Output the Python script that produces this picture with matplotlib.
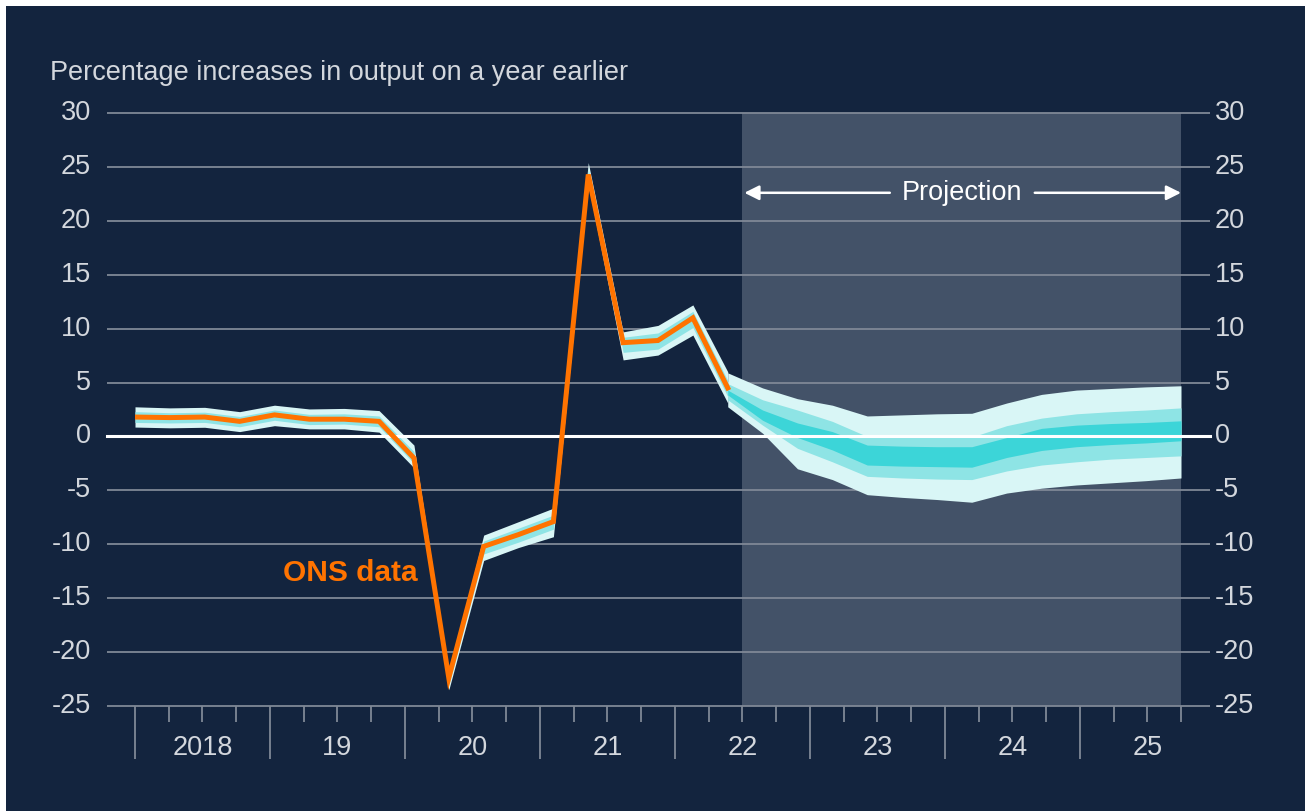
import numpy as np
import matplotlib
matplotlib.use("Agg")
import matplotlib.pyplot as plt
from matplotlib import font_manager
from matplotlib.patches import Rectangle

# ---------------- data ----------------
# 31 quarterly observations, positioned across the axis from 2018 to end-2025 Q3
n_points = 31
x_start, x_end = 2018.0, 2025.75

ons_values = [1.8, 1.75, 1.8, 1.4, 2.0, 1.6, 1.6, 1.4, -2.0, -22.4,
              -10.2, -9.1, -7.9, 24.3, 8.7, 8.9, 11.0, 4.5]
ons_outer_upper = [2.75, 2.65, 2.7, 2.3, 2.9, 2.55, 2.6, 2.4, -0.8, -22.0,
                   -9.15, -7.9, -6.65, 25.4, 9.7, 10.3, 12.2, 6.0]
ons_outer_lower = [0.87, 0.8, 0.85, 0.45, 1.0, 0.7, 0.7, 0.4, -2.9, -23.5,
                   -11.5, -10.3, -9.3, 23.4, 7.1, 7.55, 9.4, 3.1]
ons_inner_upper = [2.3, 2.2, 2.25, 1.85, 2.45, 2.05, 2.1, 1.9, -1.4, -22.2,
                   -9.7, -8.5, -7.3, 24.8, 9.2, 9.6, 11.6, 5.2]
ons_inner_lower = [1.3, 1.25, 1.3, 0.9, 1.5, 1.1, 1.15, 0.9, -2.5, -23.0,
                   -10.9, -9.8, -8.6, 23.8, 7.8, 8.1, 10.1, 3.7]

# projection fan (14 points, starting at last ONS point)
fan_outer_top = [5.9, 4.5, 3.5, 2.9, 1.9, 2.0, 2.1, 2.15, 3.1, 3.9, 4.3, 4.45, 4.6, 4.7]
fan_mid_top = [4.9, 3.4, 2.45, 1.4, 0.0, -0.05, -0.05, -0.05, 1.0, 1.7, 2.1, 2.3, 2.45, 2.65]
fan_dark_top = [4.3, 2.45, 1.25, 0.45, -0.8, -0.9, -0.95, -0.95, -0.1, 0.75, 1.05, 1.2, 1.3, 1.45]
fan_dark_bot = [3.85, 1.5, -0.1, -1.25, -2.65, -2.75, -2.8, -2.85, -1.95, -1.3, -0.95, -0.75, -0.6, -0.4]
fan_mid_bot = [3.4, 1.05, -1.1, -2.35, -3.7, -3.85, -3.95, -4.0, -3.2, -2.65, -2.35, -2.1, -1.95, -1.8]
fan_outer_bot = [2.75, 0.3, -3.0, -4.0, -5.4, -5.65, -5.85, -6.1, -5.25, -4.8, -4.5, -4.3, -4.1, -3.85]

years = [2018, 2019, 2020, 2021, 2022, 2023, 2024, 2025]
year_labels = ["2018", "19", "20", "21", "22", "23", "24", "25"]
y_ticks = [30, 25, 20, 15, 10, 5, 0, -5, -10, -15, -20, -25]
projection_start = 2022.5
title = "Percentage increases in output on a year earlier"

# ---------------- style ----------------
names = {f.name for f in font_manager.fontManager.ttflist}
FAM = "Liberation Sans Narrow" if "Liberation Sans Narrow" in names else "Liberation Sans"
FS = 23 if FAM == "Liberation Sans Narrow" else 19.5
plt.rcParams["font.family"] = [FAM, "DejaVu Sans"]

NAVY = "#13243e"
SHADE = "#435268"
GRID = "#7f8896"
TXT = "#d3d7dd"
ORANGE = "#ff7300"
LIGHT = "#d9f6f6"
MID = "#8ee4e5"
DARK = "#3cd5d8"

W, H = 1314, 811
fig = plt.figure(figsize=(W / 100, H / 100), dpi=100)
fig.patch.set_facecolor("white")
bg = Rectangle((6 / W, 0), (1305 - 6) / W, (H - 6) / H,
               transform=fig.transFigure, facecolor=NAVY, edgecolor="none", zorder=-10)
fig.patches.append(bg)

L, R, T, B = 135, 1181, 113, 706
ax = fig.add_axes([L / W, 1 - B / H, (R - L) / W, (B - T) / H])
ax.set_zorder(1)
ax.set_facecolor("none")
ax.set_xlim(x_start, x_end)
ax.set_ylim(-25, 30)
for s in ax.spines.values():
    s.set_visible(False)

x = np.linspace(x_start, x_end, n_points)
x_ons = x[:len(ons_values)]
x_fan = x[len(ons_values) - 1:]

# projection shading
ax.axvspan(projection_start, x_end, color=SHADE, zorder=1, lw=0)

# grid lines extending beyond the axes
gx0 = x_start - 28 / 135
gx1 = x_end + 29 / 135
for yv in y_ticks:
    if yv == 0:
        continue
    ax.plot([gx0, gx1], [yv, yv], color=GRID, lw=1.3, zorder=2, clip_on=False,
            solid_capstyle="butt")

# ONS band
ax.fill_between(x_ons, ons_outer_lower, ons_outer_upper, color=LIGHT, lw=0, zorder=3)
ax.fill_between(x_ons, ons_inner_lower, ons_inner_upper, color=MID, lw=0, zorder=3.1)

# projection fan
ax.fill_between(x_fan, fan_outer_bot, fan_outer_top, color=LIGHT, lw=0, zorder=3)
ax.fill_between(x_fan, fan_mid_bot, fan_mid_top, color=MID, lw=0, zorder=3.1)
ax.fill_between(x_fan, fan_dark_bot, fan_dark_top, color=DARK, lw=0, zorder=3.2)

# zero line
ax.plot([gx0, gx1], [0, 0], color="white", lw=2.2, zorder=4, clip_on=False)

# ONS line
ax.plot(x_ons, ons_values, color=ORANGE, lw=3.6, zorder=5, solid_joinstyle="miter")

# y tick labels on both sides
ax.set_yticks([])
for yv in y_ticks:
    ax.text(x_start - 44 / 135, yv, str(yv), ha="right", va="center",
            fontsize=FS, color=TXT, clip_on=False)
    ax.text(x_end + 34 / 135, yv, str(yv), ha="left", va="center",
            fontsize=FS, color=TXT, clip_on=False)

# x ticks
quarters = np.arange(x_start, x_end + 0.01, 0.25)
ax.set_xticks(years)
ax.set_xticks(quarters, minor=True)
ax.tick_params(axis="x", which="major", length=38, width=1.3, color=GRID,
               labelbottom=False, direction="out")
ax.tick_params(axis="x", which="minor", length=11.5, width=1.3, color=GRID,
               direction="out")
for yr, lab in zip(years, year_labels):
    ax.text(yr + 0.5, -25 - 42 / 10.78, lab, ha="center", va="center",
            fontsize=FS, color=TXT, clip_on=False)

# title
fig.text(50 / W, 1 - 73 / H, title, ha="left", va="center", fontsize=FS, color=TXT)

# projection annotation
py = 22.6
pc = 2018 + (962 - 135) / 135
ax.text(pc, py, "Projection", ha="center", va="center",
        fontsize=FS, color="white", zorder=6)
ax.annotate("", xy=(projection_start + 2 / 135, py), xytext=(2018 + (890 - 135) / 135, py),
            arrowprops=dict(arrowstyle="-|>", color="white", lw=1.8,
                            mutation_scale=22, shrinkA=0, shrinkB=0), zorder=6)
ax.annotate("", xy=(x_end, py), xytext=(2018 + (1035 - 135) / 135, py),
            arrowprops=dict(arrowstyle="-|>", color="white", lw=1.8,
                            mutation_scale=22, shrinkA=0, shrinkB=0), zorder=6)

# ONS data label
ax.text(2018 + (283 - 135) / 135, (436.4 - 573) / 10.78, "ONS data", ha="left",
        va="center", fontsize=FS + 2, fontweight="bold", color=ORANGE, zorder=6)

fig.savefig("out.png", dpi=100, facecolor=fig.get_facecolor())
